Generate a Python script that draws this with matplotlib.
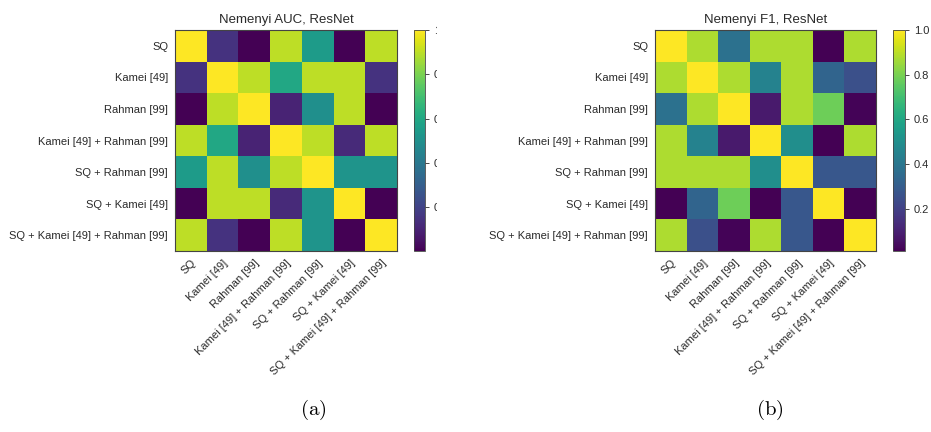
import numpy as np
import matplotlib
matplotlib.use("Agg")
import matplotlib.pyplot as plt
from matplotlib.transforms import Bbox, TransformedBbox

plt.rcParams['font.family'] = ['Liberation Sans', 'DejaVu Sans']
plt.rcParams['mathtext.fontset'] = 'cm'

labels = ["SQ", "Kamei [49]", "Rahman [99]", "Kamei [49] + Rahman [99]",
          "SQ + Rahman [99]", "SQ + Kamei [49]", "SQ + Kamei [49] + Rahman [99]"]

auc = [
    [1.00, 0.15, 0.002, 0.90, 0.55, 0.002, 0.90],
    [0.15, 1.00, 0.90, 0.60, 0.90, 0.90, 0.15],
    [0.002, 0.90, 1.00, 0.10, 0.50, 0.90, 0.002],
    [0.90, 0.60, 0.10, 1.00, 0.90, 0.12, 0.90],
    [0.55, 0.90, 0.50, 0.90, 1.00, 0.52, 0.52],
    [0.002, 0.90, 0.90, 0.12, 0.52, 1.00, 0.002],
    [0.90, 0.15, 0.002, 0.90, 0.52, 0.002, 1.00],
]

f1 = [
    [1.00, 0.88, 0.38, 0.88, 0.88, 0.01, 0.88],
    [0.88, 1.00, 0.88, 0.45, 0.88, 0.33, 0.25],
    [0.38, 0.88, 1.00, 0.08, 0.88, 0.78, 0.02],
    [0.88, 0.45, 0.08, 1.00, 0.50, 0.01, 0.88],
    [0.88, 0.88, 0.88, 0.50, 1.00, 0.28, 0.28],
    [0.01, 0.33, 0.78, 0.01, 0.28, 1.00, 0.01],
    [0.88, 0.25, 0.02, 0.88, 0.28, 0.01, 1.00],
]

titles = ["Nemenyi AUC, ResNet", "Nemenyi F1, ResNet"]
captions = [r"$\mathrm{(a)}$", r"$\mathrm{(b)}$"]

W, H = 931, 432
fig = plt.figure(figsize=(W / 100, H / 100), dpi=100)

def fx(px):
    return px / W

def fy(py):
    return 1 - py / H

panels = [
    dict(data=auc, hm=(175, 30, 397, 251), cb=(414, 30, 425, 251), cap=313),
    dict(data=f1, hm=(655, 30, 876, 251), cb=(893, 30, 905, 251), cap=770),
]

cbars = []
for i, p in enumerate(panels):
    x0, y0, x1, y1 = p["hm"]
    ax = fig.add_axes([fx(x0), fy(y1), fx(x1 - x0), (y1 - y0) / H])
    im = ax.imshow(np.array(p["data"]), cmap="viridis", aspect="auto")
    ax.set_xticks(range(len(labels)))
    ax.set_yticks(range(len(labels)))
    ax.set_xticklabels(labels, rotation=45, ha="right", rotation_mode="anchor", fontsize=8, color="#2a2a2a")
    ax.set_yticklabels(labels, fontsize=8, color="#2a2a2a")
    ax.tick_params(length=0, pad=5)
    for s in ax.spines.values():
        s.set_color("#444444")
        s.set_linewidth(0.8)
    ax.set_title(titles[i], fontsize=9.5, color="#2a2a2a", pad=5)
    cx0, cy0, cx1, cy1 = p["cb"]
    cax = fig.add_axes([fx(cx0), fy(cy1), fx(cx1 - cx0), (cy1 - cy0) / H])
    cb = fig.colorbar(im, cax=cax)
    cb.set_ticks([0.2, 0.4, 0.6, 0.8, 1.0])
    cb.ax.tick_params(labelsize=8, length=3, width=0.6, colors="#2a2a2a")
    cb.outline.set_linewidth(0.6)
    cb.outline.set_edgecolor("#444444")
    cbars.append(cb)
    fig.text(fx(p["cap"]), fy(410), captions[i], ha="center", va="center",
             fontsize=15)

fig.canvas.draw()
clip = TransformedBbox(Bbox.from_extents(0, 0, fx(437), 1), fig.transFigure)
cbars[0].ax.yaxis.set_ticklabels(["0.2", "0.4", "0.6", "0.8", "1"])
fig.canvas.draw()
for t in cbars[0].ax.get_yticklabels():
    t.set_clip_on(True)
    t.set_clip_box(clip)

fig.savefig("out.png", dpi=100)
